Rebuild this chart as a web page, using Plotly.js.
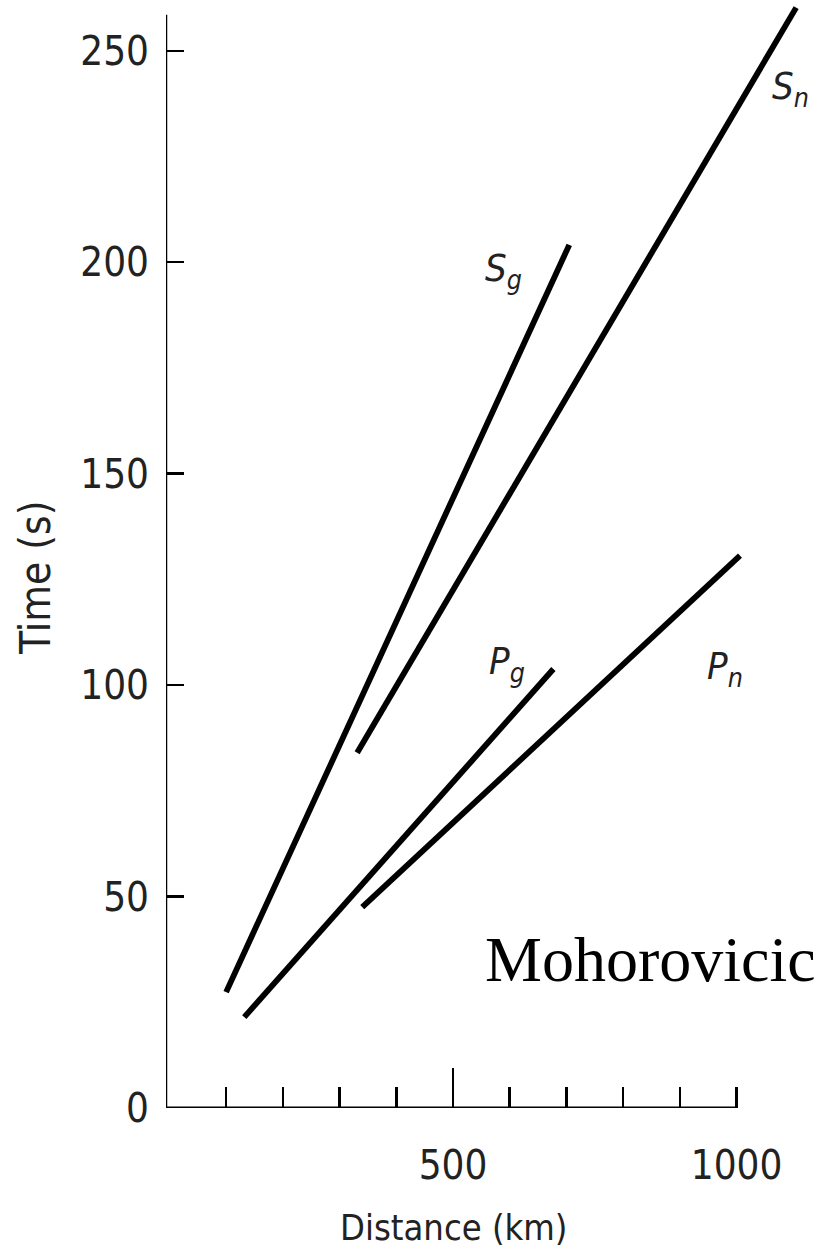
<!DOCTYPE html>
<html><head><meta charset="utf-8">
<script src="https://cdn.plot.ly/plotly-3.0.1.min.js"></script>
<style>html,body{margin:0;padding:0;background:#fff}#chart{width:817px;height:1258px}</style>
</head><body><div id="chart"></div>
<script>
// Travel-time data (distance km, time s)
const sgDistance = [100, 705];
const sgTime = [27.4, 204.1];
const snDistance = [331, 1105];
const snTime = [84, 260.2];
const pgDistance = [132, 677];
const pgTime = [21.5, 103.8];
const pnDistance = [340, 1006];
const pnTime = [47.5, 130.6];

const xTickVals = [500, 1000];
const xTickText = ["500", "1000"];
const xMinorVals = [100, 200, 300, 400, 600, 700, 800, 900];
const yTickVals = [0, 50, 100, 150, 200, 250];
const yTickText = ["0", "50", "100", "150", "200", "250"];
const xTitle = 'Distance (km)';
const yTitle = 'Time (s)';

const FONT = "'Liberation Sans Narrow', 'DejaVu Sans Condensed', 'Open Sans', sans-serif";
const TXT = '#222';
const lineStyle = {color: '#000', width: 5.8};

const traces = [
  {x: sgDistance, y: sgTime, name: 'Sg', mode: 'lines', line: lineStyle, hoverinfo: 'skip'},
  {x: snDistance, y: snTime, name: 'Sn', mode: 'lines', line: lineStyle, hoverinfo: 'skip'},
  {x: pgDistance, y: pgTime, name: 'Pg', mode: 'lines', line: lineStyle, hoverinfo: 'skip'},
  {x: pnDistance, y: pnTime, name: 'Pn', mode: 'lines', line: lineStyle, hoverinfo: 'skip'},
  {x: [500], y: [0], xaxis: 'x2', mode: 'markers', marker: {opacity: 0}, hoverinfo: 'skip', showlegend: false}
];

const xRange = [-6, 1140];
const layout = {
  width: 817, height: 1258,
  margin: {l: 166, r: 1, t: 0, b: 150},
  paper_bgcolor: '#fff', plot_bgcolor: '#fff',
  showlegend: false,
  font: {family: FONT, color: TXT, size: 40},
  xaxis: {
    range: xRange, showgrid: false, zeroline: false, showline: false,
    tickmode: 'array', tickvals: xTickVals, ticktext: xTickText,
    ticks: 'inside', ticklen: 21, tickwidth: 2.5, tickcolor: '#000',
    ticklabelstandoff: 30,
    tickfont: {family: FONT, size: 40, color: TXT},
    minor: {tickmode: 'array', tickvals: xMinorVals, ticks: 'inside', ticklen: 21, tickwidth: 2.5, tickcolor: '#000', showgrid: false}
  },
  xaxis2: {
    overlaying: 'x', matches: 'x', range: xRange, side: 'bottom',
    showgrid: false, zeroline: false, showline: false, showticklabels: false,
    tickmode: 'array', tickvals: [500],
    ticks: 'inside', ticklen: 40, tickwidth: 2.5, tickcolor: '#000'
  },
  yaxis: {
    range: [0, 262], showgrid: false, zeroline: false, showline: false,
    tickmode: 'array', tickvals: yTickVals, ticktext: yTickText,
    ticks: 'inside', ticklen: 18, tickwidth: 2.5, tickcolor: '#000',
    ticklabelstandoff: 16,
    tickfont: {family: FONT, size: 40, color: TXT}
  },
  shapes: [
    {type: 'line', xref: 'x', yref: 'y', x0: -6, x1: 1000, y0: 0, y1: 0, line: {color: '#000', width: 3}},
    {type: 'line', xref: 'x', yref: 'y', x0: -6, x1: -6, y0: 0, y1: 258.5, line: {color: '#000', width: 2.5}}
  ],
  annotations: [
    {xref: 'paper', yref: 'paper', x: 0.443, y: -0.1083, xanchor: 'center', yanchor: 'middle', showarrow: false,
     text: xTitle, font: {family: FONT, size: 36, color: TXT}},
    {xref: 'paper', yref: 'paper', x: -0.2015, y: 0.4783, xanchor: 'center', yanchor: 'middle', showarrow: false,
     textangle: -90, text: yTitle, font: {family: FONT, size: 42, color: TXT}},
    {xref: 'x', yref: 'y', x: 553, y: 198, xanchor: 'left', yanchor: 'middle', showarrow: false,
     text: '<i>S</i><sub><i>g</i></sub>', font: {family: FONT, size: 38, color: TXT}},
    {xref: 'x', yref: 'y', x: 1059, y: 241, xanchor: 'left', yanchor: 'middle', showarrow: false,
     text: '<i>S</i><sub><i>n</i></sub>', font: {family: FONT, size: 38, color: TXT}},
    {xref: 'x', yref: 'y', x: 560, y: 105, xanchor: 'left', yanchor: 'middle', showarrow: false,
     text: '<i>P</i><sub><i>g</i></sub>', font: {family: FONT, size: 38, color: TXT}},
    {xref: 'x', yref: 'y', x: 944, y: 104, xanchor: 'left', yanchor: 'middle', showarrow: false,
     text: '<i>P</i><sub><i>n</i></sub>', font: {family: FONT, size: 38, color: TXT}},
    {xref: 'x', yref: 'y', x: 848, y: 35, xanchor: 'center', yanchor: 'middle', showarrow: false,
     text: 'Mohorovicic', font: {family: "'Liberation Serif', 'Times New Roman', serif", size: 64, color: '#000'}}
  ]
};

Plotly.newPlot('chart', traces, layout, {staticPlot: true, displayModeBar: false});
</script>
</body></html>
